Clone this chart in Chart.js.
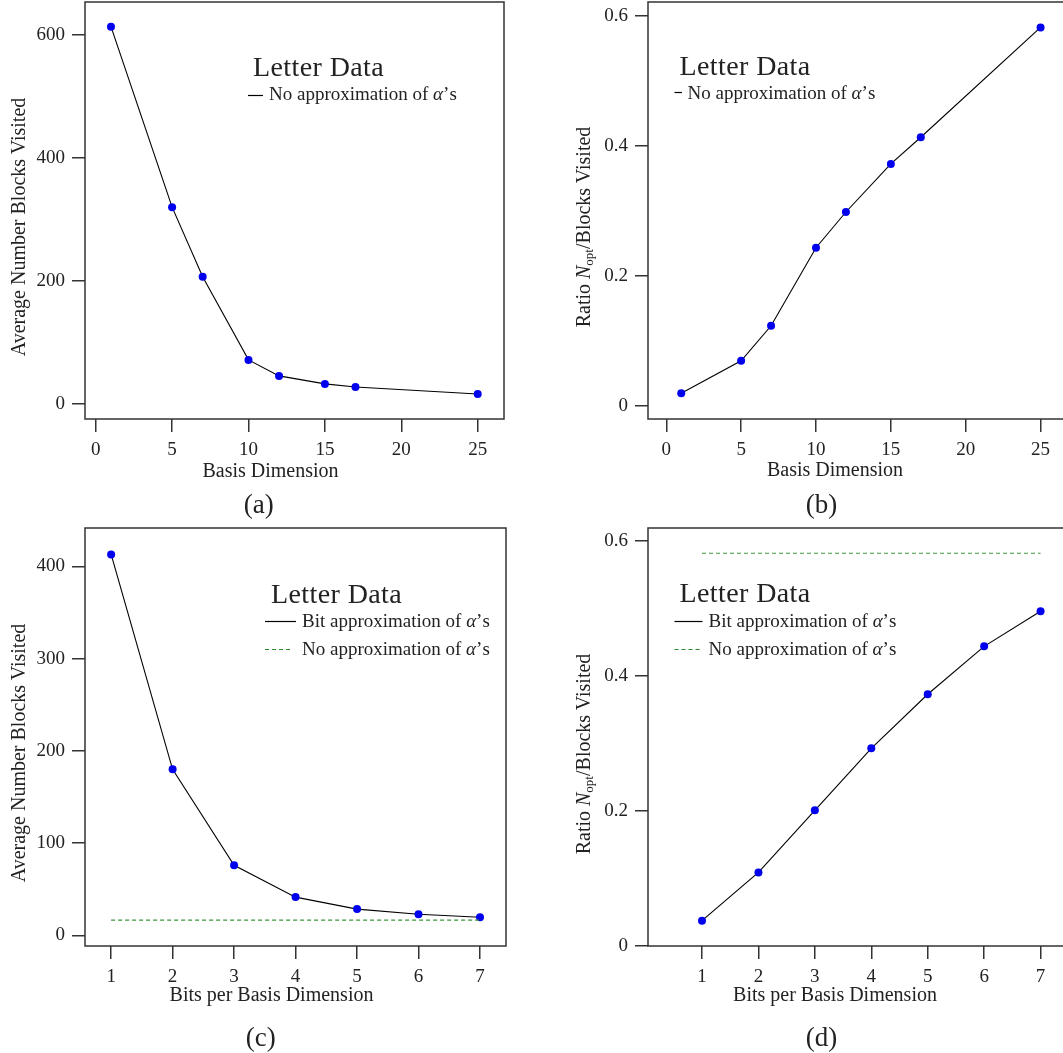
<!DOCTYPE html>
<html>
<head>
<meta charset="utf-8">
<script src="https://cdn.jsdelivr.net/npm/chart.js@4"></script>
<style>
  html, body { margin: 0; padding: 0; background: #fff; }
  body { width: 1063px; height: 1053px; position: relative; overflow: hidden;
         font-family: 'Liberation Serif', 'Times New Roman', serif; color: #222; }
  canvas { position: absolute; }
  .t { position: absolute; white-space: nowrap; line-height: 1; }
  .ld { font-size: 28px; letter-spacing: 0.4px; }
  .le { font-size: 19px; }
  .xt { font-size: 20px; transform: translateX(-50%); }
  .yt { font-size: 20px; transform: translate(-50%, -50%) rotate(-90deg); }
  .cap { font-size: 27px; transform: translate(-50%, -50%); }
  sub { font-size: 13px; vertical-align: -3px; line-height: 0; }
  svg.lg { position: absolute; left: 0; top: 0; }
</style>
</head>
<body>
<canvas id="chartA" width="506" height="470" style="left:0;top:0"></canvas>
<canvas id="chartB" width="545" height="470" style="left:530px;top:0"></canvas>
<canvas id="chartC" width="508" height="471" style="left:0;top:526px"></canvas>
<canvas id="chartD" width="545" height="471" style="left:530px;top:526px"></canvas>

<!-- legends -->
<div class="t ld" style="left:253px;top:52.5px">Letter Data</div>
<div class="t le" style="left:269px;top:84px">No approximation of <i>α</i>’s</div>

<div class="t ld" style="left:679.5px;top:51.5px">Letter Data</div>
<div class="t le" style="left:687.5px;top:82.5px">No approximation of <i>α</i>’s</div>

<div class="t ld" style="left:271px;top:580px">Letter Data</div>
<div class="t le" style="left:302px;top:610.5px">Bit approximation of <i>α</i>’s</div>
<div class="t le" style="left:302px;top:638.5px">No approximation of <i>α</i>’s</div>

<div class="t ld" style="left:679.5px;top:579px">Letter Data</div>
<div class="t le" style="left:708.5px;top:611px">Bit approximation of <i>α</i>’s</div>
<div class="t le" style="left:708.5px;top:638.5px">No approximation of <i>α</i>’s</div>

<svg class="lg" width="1063" height="1053">
  <line x1="248" y1="95.5" x2="263" y2="95.5" stroke="#000" stroke-width="1.2"/>
  <line x1="674.5" y1="92.5" x2="682" y2="92.5" stroke="#000" stroke-width="1.2"/>
  <line x1="265" y1="621.5" x2="296" y2="621.5" stroke="#000" stroke-width="1.2"/>
  <line x1="265" y1="649.5" x2="293" y2="649.5" stroke="#2a8a2a" stroke-width="1.2" stroke-dasharray="4 3"/>
  <line x1="674.5" y1="621.5" x2="702.5" y2="621.5" stroke="#000" stroke-width="1.2"/>
  <line x1="674.5" y1="649.5" x2="701" y2="649.5" stroke="#2a8a2a" stroke-width="1.2" stroke-dasharray="4 3"/>
</svg>

<!-- axis titles -->
<div class="t xt" style="left:270.5px;top:460px">Basis Dimension</div>
<div class="t xt" style="left:835px;top:459px">Basis Dimension</div>
<div class="t xt" style="left:271.5px;top:983.5px">Bits per Basis Dimension</div>
<div class="t xt" style="left:835px;top:983.5px">Bits per Basis Dimension</div>

<div class="t yt" style="left:17.6px;top:226.7px">Average Number Blocks Visited</div>
<div class="t yt" style="left:583.4px;top:226.7px">Ratio <i>N</i><sub>opt</sub>/Blocks Visited</div>
<div class="t yt" style="left:17.8px;top:752.8px">Average Number Blocks Visited</div>
<div class="t yt" style="left:583.4px;top:753.6px">Ratio <i>N</i><sub>opt</sub>/Blocks Visited</div>

<!-- panel captions -->
<div class="t cap" style="left:258.7px;top:504px">(a)</div>
<div class="t cap" style="left:821.5px;top:504px">(b)</div>
<div class="t cap" style="left:260.7px;top:1037px">(c)</div>
<div class="t cap" style="left:821.5px;top:1037px">(d)</div>

<script>
// ── data ─────────────────────────────────────────────────
const basisDims    = [1, 5, 7, 10, 12, 15, 17, 25];
const blocksByDim  = [613, 320, 207, 72, 46, 33, 28, 16.5];
const ratioByDim   = [0.019, 0.069, 0.123, 0.243, 0.298, 0.372, 0.413, 0.582];

const bitsPerDim   = [1, 2, 3, 4, 5, 6, 7];
const blocksByBits = [413, 180, 76, 41.5, 28.5, 23, 19.7];
const ratioByBits  = [0.0375, 0.109, 0.201, 0.293, 0.373, 0.444, 0.496];

const noApproxBlocks = 16.5;
const noApproxRatio  = 0.582;

const dimTicks    = [0, 5, 10, 15, 20, 25];
const bitTicks    = [1, 2, 3, 4, 5, 6, 7];
const blockTicksA = [0, 200, 400, 600];
const blockTicksC = [0, 100, 200, 300, 400];
const ratioTicks  = [0, 0.2, 0.4, 0.6];

// ── shared styling ───────────────────────────────────────
Chart.defaults.font.family = "'Liberation Serif', 'Times New Roman', serif";
Chart.defaults.font.size = 19;
Chart.defaults.color = '#222';

const AXIS = '#333';
const pts = (xs, ys) => xs.map((x, i) => ({ x, y: ys[i] }));

const boxPlugin = {
  id: 'box',
  afterDraw(chart) {
    const { ctx, chartArea: a } = chart;
    ctx.save();
    ctx.strokeStyle = AXIS;
    ctx.lineWidth = 1.5;
    ctx.strokeRect(a.left, a.top, a.right - a.left, a.bottom - a.top);
    ctx.restore();
  }
};

function mainSeries(xs, ys) {
  return {
    data: pts(xs, ys),
    borderColor: '#000', borderWidth: 1.1, tension: 0,
    pointRadius: 4, pointBackgroundColor: '#0000ee', pointBorderWidth: 0
  };
}

function flatSeries(xs, y) {
  return {
    data: [{ x: xs[0], y }, { x: xs[xs.length - 1], y }],
    borderColor: '#3a953a', borderWidth: 1.2, borderDash: [4, 3],
    pointRadius: 0, tension: 0
  };
}

// fixed scale sizes, no label overflow padding, so the plot box lands where we want
const noPad = s => { s.paddingTop = 0; s.paddingBottom = 0; s.paddingLeft = 0; s.paddingRight = 0; };

function panel(id, o) {
  new Chart(document.getElementById(id), {
    type: 'line',
    data: { datasets: o.datasets },
    options: {
      responsive: false,
      animation: false,
      layout: { padding: { top: 2, right: o.padRight, left: 0, bottom: 0 }, autoPadding: false },
      plugins: { legend: { display: false }, tooltip: { enabled: false } },
      scales: {
        x: {
          type: 'linear', min: o.xMin, max: o.xMax,
          afterBuildTicks: s => { s.ticks = o.xTicks.map(v => ({ value: v })); },
          afterFit: s => { s.height = 51; noPad(s); },
          grid: { drawOnChartArea: false, tickLength: 13, color: AXIS, lineWidth: 1.5 },
          border: { display: false },
          ticks: { padding: 7, autoSkip: false, maxRotation: 0, callback: v => String(v) }
        },
        y: {
          type: 'linear', min: o.yMin, max: o.yMax,
          afterBuildTicks: s => { s.ticks = o.yTicks.map(v => ({ value: v })); },
          afterFit: s => { s.width = o.yWidth; noPad(s); },
          grid: { drawOnChartArea: false, tickLength: 13, color: AXIS, lineWidth: 1.5 },
          border: { display: false },
          ticks: { padding: 7, autoSkip: false, callback: v => String(v) }
        }
      }
    },
    plugins: [boxPlugin]
  });
}

// ── (a) blocks visited vs basis dimension ─────────────────
panel('chartA', {
  datasets: [mainSeries(basisDims, blocksByDim)],
  xMin: -0.70, xMax: 26.72, xTicks: dimTicks,
  yMin: -24.0, yMax: 653.1, yTicks: blockTicksA,
  yWidth: 85, padRight: 2
});

// ── (b) ratio vs basis dimension ──────────────────────────
panel('chartB', {
  datasets: [mainSeries(basisDims, ratioByDim)],
  xMin: -1.22, xMax: 27.30, xTicks: dimTicks,
  yMin: -0.0205, yMax: 0.6211, yTicks: ratioTicks,
  yWidth: 118, padRight: 0
});

// ── (c) blocks visited vs bits per dimension ──────────────
panel('chartC', {
  datasets: [flatSeries(bitsPerDim, noApproxBlocks), mainSeries(bitsPerDim, blocksByBits)],
  xMin: 0.575, xMax: 7.423, xTicks: bitTicks,
  yMin: -11.5, yMax: 441.7, yTicks: blockTicksC,
  yWidth: 85, padRight: 2
});

// ── (d) ratio vs bits per dimension ───────────────────────
panel('chartD', {
  datasets: [flatSeries(bitsPerDim, noApproxRatio), mainSeries(bitsPerDim, ratioByBits)],
  xMin: 0.043, xMax: 7.61, xTicks: bitTicks,
  yMin: 0, yMax: 0.6194, yTicks: ratioTicks,
  yWidth: 118, padRight: 0
});
</script>
</body>
</html>
